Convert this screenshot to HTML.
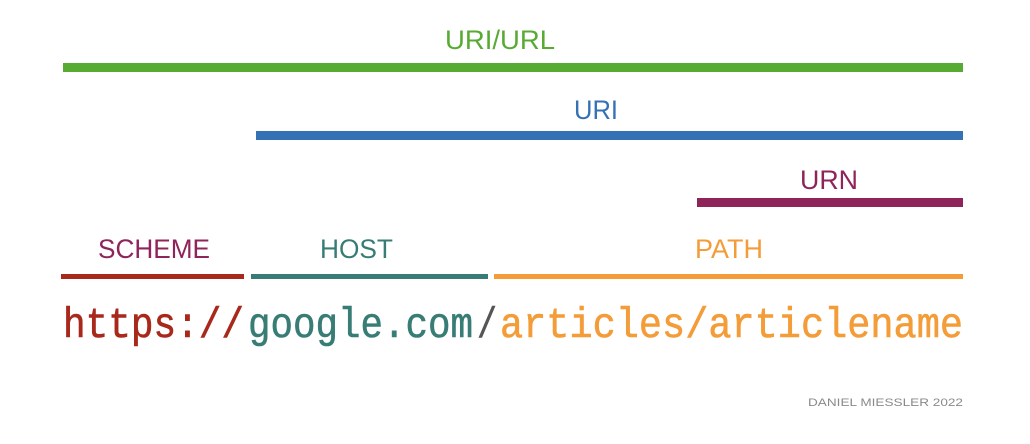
<!DOCTYPE html>
<html><head><meta charset="utf-8"><style>
html,body{margin:0;padding:0;background:#fff;}
svg{display:block}
.s{font-family:"Liberation Sans",sans-serif;font-size:27px}
.m{font-family:"Liberation Mono",monospace;font-size:43px}
</style></head><body>
<svg width="1030" height="444" viewBox="0 0 1030 444" xmlns="http://www.w3.org/2000/svg">
<rect width="1030" height="444" fill="#fff"/>
<text class="s" x="445" y="49" textLength="110" lengthAdjust="spacingAndGlyphs" fill="#57ab33">URI/URL</text>
<rect x="63" y="63" width="900" height="9" fill="#57ab33"/>
<text class="s" x="574" y="119" textLength="44" lengthAdjust="spacingAndGlyphs" fill="#3572b5">URI</text>
<rect x="256" y="131" width="707" height="9" fill="#3572b5"/>
<text class="s" x="800" y="189" textLength="58" lengthAdjust="spacingAndGlyphs" fill="#8e2459">URN</text>
<rect x="697" y="198" width="266" height="9" fill="#8e2459"/>
<text class="s" x="98" y="258" textLength="112" lengthAdjust="spacingAndGlyphs" fill="#8e2459">SCHEME</text>
<text class="s" x="320" y="258" textLength="73" lengthAdjust="spacingAndGlyphs" fill="#387c76">HOST</text>
<text class="s" x="695" y="258" textLength="68" lengthAdjust="spacingAndGlyphs" fill="#f39c38">PATH</text>
<rect x="61" y="274" width="183" height="5" fill="#a8291b"/>
<rect x="251" y="274" width="237" height="5" fill="#387c76"/>
<rect x="494" y="274" width="469" height="5" fill="#f39c38"/>
<g stroke-width="0.6">
<text class="m" x="63" y="337" textLength="181" lengthAdjust="spacingAndGlyphs" fill="#a8291b" stroke="#a8291b">https://</text>
<text class="m" x="248" y="337" textLength="225" lengthAdjust="spacingAndGlyphs" fill="#387c76" stroke="#387c76">google.com</text>
<text class="m" x="477" y="337" textLength="20" lengthAdjust="spacingAndGlyphs" fill="#555" stroke="#555">/</text>
<text class="m" x="500" y="337" textLength="463" lengthAdjust="spacingAndGlyphs" fill="#f39c38" stroke="#f39c38">articles/articlename</text>
</g>
<text x="808" y="406" textLength="155" lengthAdjust="spacingAndGlyphs" font-family="Liberation Sans, sans-serif" font-size="11" fill="#8a8a8a">DANIEL MIESSLER 2022</text>
</svg>
</body></html>
